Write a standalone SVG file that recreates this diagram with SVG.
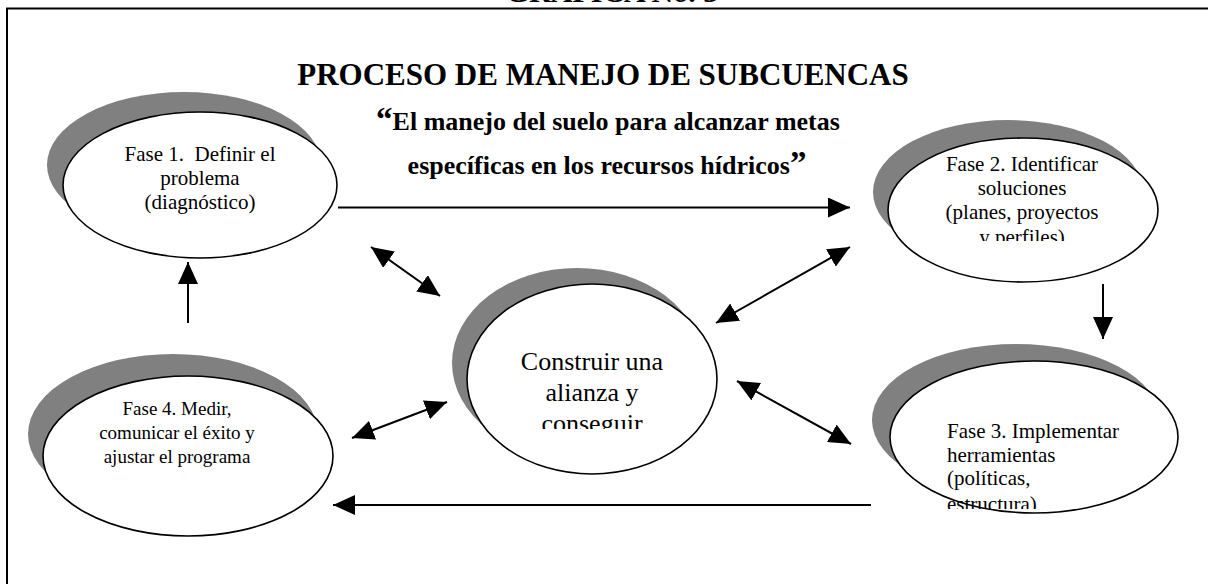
<svg xmlns="http://www.w3.org/2000/svg" width="1208" height="584" viewBox="0 0 1208 584">
<style>
  .t { font-family: "Liberation Serif", "Times New Roman", serif; fill: #000; }
  .b { font-weight: bold; }
  .shadow { fill: #808080; stroke: none; }
  .ell { fill: #fff; stroke: #000; stroke-width: 1.6; }
  .ln { stroke: #000; stroke-width: 2; fill: none; }
  .frame { stroke: #000; stroke-width: 2; fill: none; }
</style>
<defs>
  <marker id="ah" viewBox="0 0 22 20" refX="22" refY="10" markerWidth="22" markerHeight="20" markerUnits="userSpaceOnUse" orient="auto-start-reverse">
    <path d="M0,0 L22,10 L0,20 z" fill="#000"/>
  </marker>
  <clipPath id="c2"><rect x="880" y="140" width="280" height="101"/></clipPath>
  <clipPath id="c3"><rect x="880" y="405" width="290" height="104"/></clipPath>
  <clipPath id="cc"><rect x="470" y="335" width="250" height="94"/></clipPath>
</defs>
<rect width="1208" height="584" fill="#fff"/>
<text class="t b" x="612" y="1.5" font-size="30" text-anchor="middle">GRAFICA No. 3</text>
<path class="frame" d="M7,584 L7,8.5 L1208,8.5"/>
<text class="t b" x="603" y="85" font-size="31" text-anchor="middle">PROCESO DE MANEJO DE SUBCUENCAS</text>
<text class="t b" x="608" y="130" font-size="26" text-anchor="middle"><tspan font-size="33">“</tspan>El manejo del suelo para alcanzar metas</text>
<text class="t b" x="607" y="174" font-size="26" text-anchor="middle">específicas en los recursos hídricos<tspan font-size="33">”</tspan></text>

<g id="connectors">
  <line class="ln" x1="338" y1="207.5" x2="850" y2="207.5" marker-end="url(#ah)"/>
  <line class="ln" x1="371" y1="247" x2="440" y2="296" marker-start="url(#ah)" marker-end="url(#ah)"/>
  <line class="ln" x1="850" y1="247" x2="716" y2="323" marker-start="url(#ah)" marker-end="url(#ah)"/>
  <line class="ln" x1="352" y1="438" x2="447" y2="402" marker-start="url(#ah)" marker-end="url(#ah)"/>
  <line class="ln" x1="737" y1="381" x2="851" y2="444" marker-start="url(#ah)" marker-end="url(#ah)"/>
  <line class="ln" x1="871" y1="505" x2="333" y2="505" marker-end="url(#ah)"/>
  <line class="ln" x1="188" y1="323" x2="188" y2="262" marker-end="url(#ah)"/>
  <line class="ln" x1="1103" y1="284" x2="1103" y2="339" marker-end="url(#ah)"/>
</g>

<g id="fase1">
  <ellipse class="shadow" cx="184" cy="165" rx="137" ry="73"/>
  <ellipse class="ell" cx="200" cy="185" rx="137" ry="73"/>
  <text class="t" font-size="21" text-anchor="middle" x="200" y="161" xml:space="preserve">Fase 1.  Definir el</text>
  <text class="t" font-size="21" text-anchor="middle" x="200" y="185">problema</text>
  <text class="t" font-size="21" text-anchor="middle" x="200" y="209">(diagnóstico)</text>
</g>

<g id="fase2">
  <ellipse class="shadow" cx="1008" cy="192" rx="135" ry="72"/>
  <ellipse class="ell" cx="1023" cy="210" rx="135" ry="72"/>
  <g clip-path="url(#c2)">
    <text class="t" font-size="21" text-anchor="middle" x="1022" y="171">Fase 2. Identificar</text>
    <text class="t" font-size="21" text-anchor="middle" x="1022" y="195">soluciones</text>
    <text class="t" font-size="21" text-anchor="middle" x="1022" y="219">(planes, proyectos</text>
    <text class="t" font-size="21" text-anchor="middle" x="1022" y="244">y perfiles)</text>
  </g>
</g>

<g id="fase3">
  <ellipse class="shadow" cx="1016" cy="420" rx="144" ry="76"/>
  <ellipse class="ell" cx="1034" cy="437" rx="144" ry="76"/>
  <g clip-path="url(#c3)">
    <text class="t" font-size="21" x="947" y="438">Fase 3. Implementar</text>
    <text class="t" font-size="21" x="947" y="462">herramientas</text>
    <text class="t" font-size="21" x="947" y="485">(políticas,</text>
    <text class="t" font-size="21" x="947" y="511">estructura)</text>
  </g>
</g>

<g id="fase4">
  <ellipse class="shadow" cx="173" cy="434" rx="145" ry="80"/>
  <ellipse class="ell" cx="188" cy="456" rx="145" ry="80"/>
  <text class="t" font-size="19" text-anchor="middle" x="177" y="415">Fase 4. Medir,</text>
  <text class="t" font-size="19" text-anchor="middle" x="177" y="439">comunicar el éxito y</text>
  <text class="t" font-size="19" text-anchor="middle" x="177" y="463">ajustar el programa</text>
</g>

<g id="centro">
  <ellipse class="shadow" cx="577" cy="363" rx="125" ry="95"/>
  <ellipse class="ell" cx="592" cy="379" rx="125" ry="95"/>
  <g clip-path="url(#cc)">
    <text class="t" font-size="26" text-anchor="middle" x="592" y="370">Construir una</text>
    <text class="t" font-size="26" text-anchor="middle" x="592" y="401">alianza y</text>
    <text class="t" font-size="26" text-anchor="middle" x="592" y="432">conseguir</text>
  </g>
</g>
</svg>
